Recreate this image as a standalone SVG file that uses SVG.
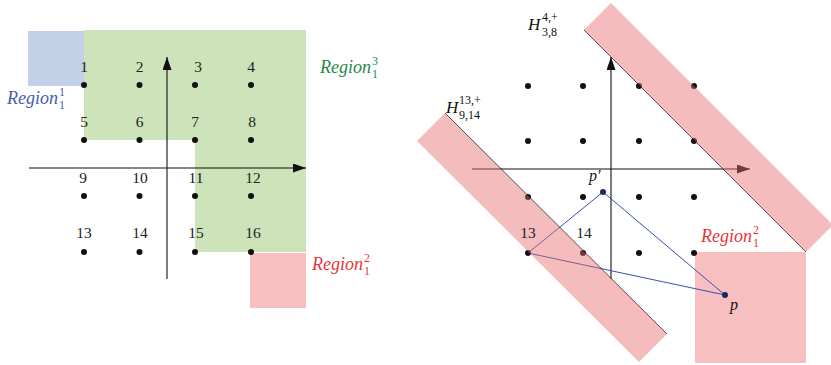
<svg xmlns="http://www.w3.org/2000/svg" width="831" height="365" viewBox="0 0 831 365">
<style>
.num{font-family:"Liberation Serif","DejaVu Serif",serif;font-size:15.5px;fill:#222;text-anchor:middle}
.lab{font-family:"Liberation Serif","DejaVu Serif",serif;font-style:italic;font-size:18px}
.sc{font-family:"Liberation Serif","DejaVu Serif",serif;font-size:12px;font-style:normal}
.ax{stroke:#111;stroke-width:1.1;fill:none}
.dot{fill:#111}
.band{fill:#e86a6c;fill-opacity:0.45}
.edge{stroke:#111;stroke-width:0.7}
.tri{stroke:#3a4fb0;stroke-width:1;fill:none}
</style>
<defs>
<marker id="ah" viewBox="0 0 13 9" refX="13" refY="4.5" markerWidth="13" markerHeight="9" markerUnits="userSpaceOnUse" orient="auto">
<path d="M0,0 L13,4.5 L0,9 Z" fill="#111"/>
</marker>
</defs>

<g id="left-regions">
<rect id="region11" x="28" y="31" width="56" height="55" fill="#c2d1e7"/>
<polygon id="region13" points="84,30 306,30 306,252 195,252 195,140 84,140" fill="#cde3b9"/>
<rect id="region12-left" x="250" y="253" width="56" height="55" fill="#f8bfc0"/>
</g>

<g id="right-region">
<rect id="region12-right" x="695" y="252" width="111" height="111" fill="#f8bfc0"/>
</g>

<g id="connectors">
<line class="ax" x1="29" y1="168" x2="306" y2="168" marker-end="url(#ah)"/>
<line class="ax" x1="167" y1="279" x2="167" y2="57" marker-end="url(#ah)"/>
<line class="ax" x1="472" y1="169" x2="750" y2="169" marker-end="url(#ah)"/>
<line class="ax" x1="611" y1="279" x2="611" y2="57" marker-end="url(#ah)"/>
<polygon class="tri" points="528,253 603,192 725,295"/>
</g>

<g id="left-points">
<circle class="dot" cx="84" cy="85" r="3"/><circle class="dot" cx="139.5" cy="85" r="3"/><circle class="dot" cx="195" cy="85" r="3"/><circle class="dot" cx="251" cy="85" r="3"/>
<circle class="dot" cx="84" cy="140" r="3"/><circle class="dot" cx="139.5" cy="140" r="3"/><circle class="dot" cx="195" cy="140" r="3"/><circle class="dot" cx="251" cy="140" r="3"/>
<circle class="dot" cx="84" cy="196" r="3"/><circle class="dot" cx="139.5" cy="196" r="3"/><circle class="dot" cx="195" cy="196" r="3"/><circle class="dot" cx="251" cy="196" r="3"/>
<circle class="dot" cx="84" cy="252" r="3"/><circle class="dot" cx="139.5" cy="252" r="3"/><circle class="dot" cx="195" cy="252" r="3"/><circle class="dot" cx="251" cy="252" r="3"/>
<text class="num" x="84" y="72">1</text><text class="num" x="139.5" y="72">2</text><text class="num" x="198" y="72">3</text><text class="num" x="251" y="72">4</text>
<text class="num" x="84" y="127">5</text><text class="num" x="139.5" y="127">6</text><text class="num" x="195" y="127">7</text><text class="num" x="252" y="127">8</text>
<text class="num" x="83" y="183">9</text><text class="num" x="140" y="183">10</text><text class="num" x="196" y="183">11</text><text class="num" x="253" y="183">12</text>
<text class="num" x="84" y="238">13</text><text class="num" x="140" y="238">14</text><text class="num" x="196" y="238">15</text><text class="num" x="253" y="238">16</text>
</g>

<g id="left-labels">
<text class="lab" x="7" y="104" fill="#4a5ab0">Region<tspan class="sc" x="59" y="96">1</tspan><tspan class="sc" x="59" y="109">1</tspan></text>
<text class="lab" x="320" y="73" fill="#1f8a4c">Region<tspan class="sc" x="372" y="65">3</tspan><tspan class="sc" x="372" y="78">1</tspan></text>
<text class="lab" x="312" y="270" fill="#e8353c">Region<tspan class="sc" x="364" y="262">2</tspan><tspan class="sc" x="364" y="275">1</tspan></text>
</g>

<g id="right-points">
<circle class="dot" cx="528" cy="86" r="3"/><circle class="dot" cx="583" cy="86" r="3"/><circle class="dot" cx="639" cy="86" r="3"/><circle class="dot" cx="694" cy="86" r="3"/>
<circle class="dot" cx="528" cy="141" r="3"/><circle class="dot" cx="583" cy="141" r="3"/><circle class="dot" cx="639" cy="141" r="3"/><circle class="dot" cx="694" cy="141" r="3"/>
<circle class="dot" cx="528" cy="197" r="3"/><circle class="dot" cx="583" cy="197" r="3"/><circle class="dot" cx="639" cy="197" r="3"/><circle class="dot" cx="694" cy="197" r="3"/>
<circle class="dot" cx="528" cy="253" r="3"/><circle class="dot" cx="583" cy="253" r="3"/><circle class="dot" cx="639" cy="253" r="3"/><circle class="dot" cx="694" cy="253" r="3"/>
<circle cx="603" cy="192" r="3" fill="#1a2a60"/>
<circle cx="725" cy="295" r="3" fill="#1a2a60"/>
</g>

<g id="band-h38">
<polygon class="band" points="584,30 611,3 833,225 806,252"/>
<line class="edge" x1="584" y1="30" x2="806" y2="252"/>
</g>
<g id="band-h914">
<polygon class="band" points="445,113 417,141 639,362 667,334"/>
<line class="edge" x1="445" y1="113" x2="667" y2="334"/>
</g>

<g id="right-labels">
<text class="lab" x="528" y="30" fill="#111" style="font-size:17px">H<tspan class="sc" x="542" y="21">4,+</tspan><tspan class="sc" x="542" y="36">3,8</tspan></text>
<text class="lab" x="446" y="113" fill="#111" style="font-size:17px">H<tspan class="sc" x="459" y="104">13,+</tspan><tspan class="sc" x="459" y="119">9,14</tspan></text>
<text class="lab" x="589" y="181" fill="#111" style="font-size:16px">p′</text>
<text class="lab" x="730" y="310" fill="#111" style="font-size:16px">p</text>
<text class="num" x="528" y="238">13</text>
<text class="num" x="584" y="238">14</text>
<text class="lab" x="701" y="242" fill="#e8353c">Region<tspan class="sc" x="753" y="234">2</tspan><tspan class="sc" x="753" y="247">1</tspan></text>
</g>
</svg>
